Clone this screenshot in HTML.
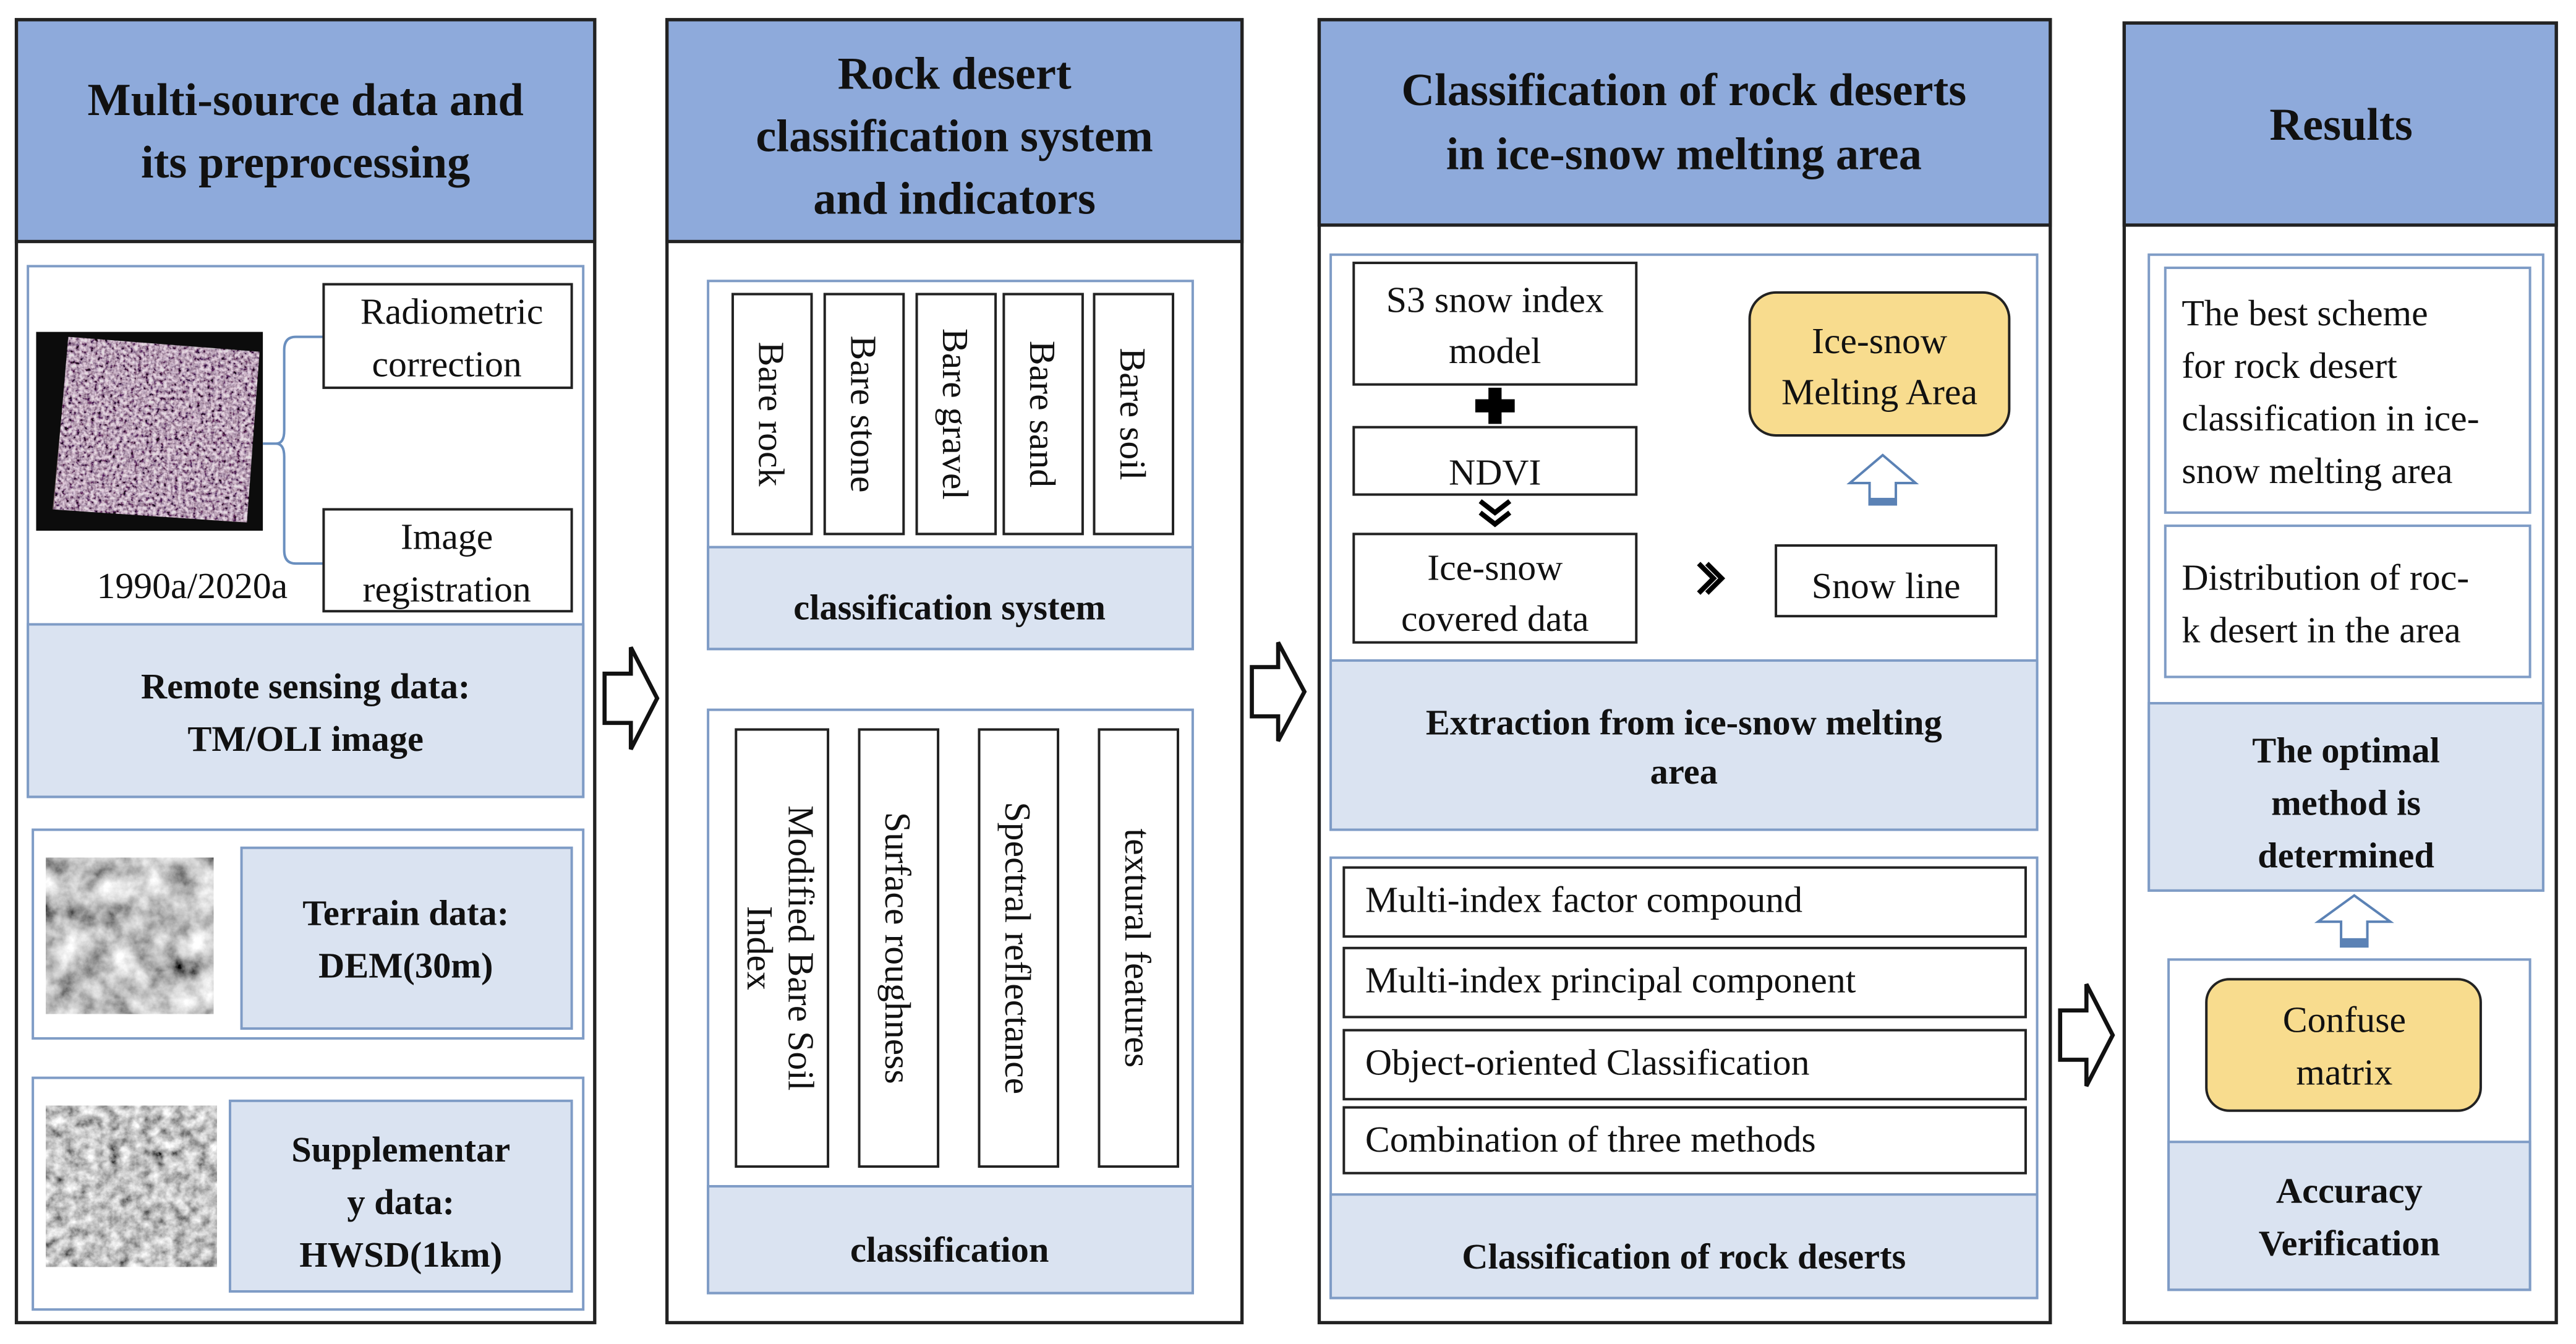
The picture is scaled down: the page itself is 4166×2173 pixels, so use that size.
<!DOCTYPE html>
<html><head><meta charset="utf-8"><style>
html,body{margin:0;padding:0;background:#fff;}
svg{display:block;}
text{font-family:"Liberation Serif",serif;fill:#111;}
.h{font-weight:bold;font-size:28px;}
.b{font-weight:bold;font-size:22px;}
.n{font-size:22.5px;}
</style></head><body>
<svg width="4166" height="2173" viewBox="0 0 1568 818" preserveAspectRatio="none" xmlns="http://www.w3.org/2000/svg">
<defs>
<filter id="sat" x="0" y="0" width="1" height="1">
<feTurbulence type="fractalNoise" baseFrequency="0.45" numOctaves="3" seed="3"/>
<feColorMatrix type="matrix" values="2.2 0.6 0 0 -0.8  2.0 0.6 0 0 -0.85  2.1 0.7 0 0 -0.8  0 0 0 0 1"/>
</filter>
<filter id="dem" x="0" y="0" width="1" height="1">
<feTurbulence type="fractalNoise" baseFrequency="0.06" numOctaves="5" seed="7"/>
<feColorMatrix type="matrix" values="1.4 0.6 0 0 -0.45  1.4 0.6 0 0 -0.45  1.4 0.6 0 0 -0.45  0 0 0 0 1"/>
</filter>
<filter id="hw" x="0" y="0" width="1" height="1">
<feTurbulence type="fractalNoise" baseFrequency="0.15" numOctaves="4" seed="11"/>
<feColorMatrix type="matrix" values="1.2 0.5 0 0 -0.3  1.2 0.5 0 0 -0.3  1.2 0.5 0 0 -0.3  0 0 0 0 1"/>
</filter>
</defs>
<rect width="1568" height="818" fill="#fff"/>

<!-- Panel 1 -->
<rect x="10" y="12" width="352" height="793" fill="#fff" stroke="#222" stroke-width="2"/>
<rect x="10" y="12" width="352" height="135" fill="#8eaadb" stroke="#222" stroke-width="2"/>
<text class="h" x="186" y="70" text-anchor="middle">Multi-source data and</text>
<text class="h" x="186" y="108" text-anchor="middle">its preprocessing</text>
<rect x="17" y="162" width="338" height="323" fill="#fff" stroke="#7f9cc6" stroke-width="1.5"/>
<rect x="17" y="380" width="338" height="105" fill="#dae3f1" stroke="#7f9cc6" stroke-width="1.5"/>
<text class="b" x="186" y="425" text-anchor="middle">Remote sensing data:</text>
<text class="b" x="186" y="457" text-anchor="middle">TM/OLI image</text>
<rect x="22" y="202" width="138" height="121" fill="#0c0c0c"/>
<polygon points="42,205 158,215 150,318 32,310" fill="#6e5a5e"/>
<rect x="30" y="205" width="128" height="113" filter="url(#sat)" opacity="0.8" style="clip-path:polygon(9% 0%,100% 8%,94% 100%,2% 93%)"/>
<path d="M160,270 H168 Q173,270 173,262 V213 Q173,205 180,205 H197 M173,278 V335 Q173,343 180,343 H197 M168,270 Q173,270 173,278" fill="none" stroke="#6a8fbf" stroke-width="1.5"/>
<rect x="197" y="173" width="151" height="63" fill="#fff" stroke="#222" stroke-width="1.5"/>
<text class="n" x="275" y="197" text-anchor="middle">Radiometric</text>
<text class="n" x="272" y="229" text-anchor="middle">correction</text>
<rect x="197" y="310" width="151" height="62" fill="#fff" stroke="#222" stroke-width="1.5"/>
<text class="n" x="272" y="334" text-anchor="middle">Image</text>
<text class="n" x="272" y="366" text-anchor="middle">registration</text>
<text class="n" x="117" y="364" text-anchor="middle">1990a/2020a</text>

<rect x="20" y="505" width="335" height="127" fill="#fff" stroke="#7f9cc6" stroke-width="1.5"/>
<rect x="28" y="522" width="102" height="95" filter="url(#dem)"/>
<rect x="147" y="516" width="201" height="110" fill="#dae3f1" stroke="#7f9cc6" stroke-width="1.5"/>
<text class="b" x="247" y="563" text-anchor="middle">Terrain data:</text>
<text class="b" x="247" y="595" text-anchor="middle">DEM(30m)</text>

<rect x="20" y="656" width="335" height="141" fill="#fff" stroke="#7f9cc6" stroke-width="1.5"/>
<rect x="28" y="673" width="104" height="98" filter="url(#hw)"/>
<rect x="140" y="670" width="208" height="116" fill="#dae3f1" stroke="#7f9cc6" stroke-width="1.5"/>
<text class="b" x="244" y="707" text-anchor="middle">Supplementar</text>
<text class="b" x="244" y="739" text-anchor="middle">y data:</text>
<text class="b" x="244" y="771" text-anchor="middle">HWSD(1km)</text>

<!-- Arrow 1 -->
<polygon points="368,410 384,410 384,394 400,425 384,456 384,440 368,440" fill="#fff" stroke="#111" stroke-width="2.5"/>

<!-- Panel 2 -->
<rect x="406" y="12" width="350" height="793" fill="#fff" stroke="#222" stroke-width="2"/>
<rect x="406" y="12" width="350" height="135" fill="#8eaadb" stroke="#222" stroke-width="2"/>
<text class="h" x="581" y="54" text-anchor="middle">Rock desert</text>
<text class="h" x="581" y="92" text-anchor="middle">classification system</text>
<text class="h" x="581" y="130" text-anchor="middle">and indicators</text>
<rect x="431" y="171" width="295" height="224" fill="#fff" stroke="#7f9cc6" stroke-width="1.5"/>
<rect x="431" y="333" width="295" height="62" fill="#dae3f1" stroke="#7f9cc6" stroke-width="1.5"/>
<text class="b" x="578" y="377" text-anchor="middle">classification system</text>
<g stroke="#222" stroke-width="1.5" fill="#fff">
<rect x="446" y="179" width="48" height="146"/><rect x="502" y="179" width="48" height="146"/>
<rect x="558" y="179" width="48" height="146"/><rect x="611" y="179" width="48" height="146"/>
<rect x="666" y="179" width="48" height="146"/>
</g>
<text class="n" transform="translate(462,252) rotate(90)" text-anchor="middle">Bare rock</text>
<text class="n" transform="translate(518,252) rotate(90)" text-anchor="middle">Bare stone</text>
<text class="n" transform="translate(574,252) rotate(90)" text-anchor="middle">Bare gravel</text>
<text class="n" transform="translate(627,252) rotate(90)" text-anchor="middle">Bare sand</text>
<text class="n" transform="translate(682,252) rotate(90)" text-anchor="middle">Bare soil</text>

<rect x="431" y="432" width="295" height="355" fill="#fff" stroke="#7f9cc6" stroke-width="1.5"/>
<rect x="431" y="722" width="295" height="65" fill="#dae3f1" stroke="#7f9cc6" stroke-width="1.5"/>
<text class="b" x="578" y="768" text-anchor="middle">classification</text>
<g stroke="#222" stroke-width="1.5" fill="#fff">
<rect x="448" y="444" width="56" height="266"/><rect x="523" y="444" width="48" height="266"/>
<rect x="596" y="444" width="48" height="266"/><rect x="669" y="444" width="48" height="266"/>
</g>
<text class="n" transform="translate(480,577) rotate(90)" text-anchor="middle">Modified Bare Soil</text>
<text class="n" transform="translate(455,577) rotate(90)" text-anchor="middle">Index</text>
<text class="n" transform="translate(539,577) rotate(90)" text-anchor="middle">Surface roughness</text>
<text class="n" transform="translate(612,577) rotate(90)" text-anchor="middle">Spectral reflectance</text>
<text class="n" transform="translate(685,577) rotate(90)" text-anchor="middle">textural features</text>

<!-- Arrow 2 -->
<polygon points="762,406 778,406 778,391 794,421 778,451 778,436 762,436" fill="#fff" stroke="#111" stroke-width="2.5"/>

<!-- Panel 3 -->
<rect x="803" y="12" width="445" height="793" fill="#fff" stroke="#222" stroke-width="2"/>
<rect x="803" y="12" width="445" height="125" fill="#8eaadb" stroke="#222" stroke-width="2"/>
<text class="h" x="1025" y="64" text-anchor="middle">Classification of rock deserts</text>
<text class="h" x="1025" y="103" text-anchor="middle">in ice-snow melting area</text>
<rect x="810" y="155" width="430" height="350" fill="#fff" stroke="#7f9cc6" stroke-width="1.5"/>
<rect x="810" y="402" width="430" height="103" fill="#dae3f1" stroke="#7f9cc6" stroke-width="1.5"/>
<text class="b" x="1025" y="447" text-anchor="middle">Extraction from ice-snow melting</text>
<text class="b" x="1025" y="477" text-anchor="middle">area</text>
<g stroke="#222" stroke-width="1.5" fill="#fff">
<rect x="824" y="160" width="172" height="74"/>
<rect x="824" y="260" width="172" height="41"/>
<rect x="824" y="325" width="172" height="66"/>
<rect x="1081" y="332" width="134" height="43"/>
</g>
<text class="n" x="910" y="190" text-anchor="middle">S3 snow index</text>
<text class="n" x="910" y="221" text-anchor="middle">model</text>
<text class="n" x="910" y="295" text-anchor="middle">NDVI</text>
<text class="n" x="910" y="353" text-anchor="middle">Ice-snow</text>
<text class="n" x="910" y="384" text-anchor="middle">covered data</text>
<text class="n" x="1148" y="364" text-anchor="middle">Snow line</text>
<path d="M906,236 h8 v7 h8 v8 h-8 v7 h-8 v-7 h-8 v-8 h8z" fill="#000"/>
<path d="M901,305 l9,7 l9,-7 M901,312 l9,7 l9,-7" fill="none" stroke="#000" stroke-width="3"/>
<path d="M1034,343 l9,9 l-9,9 M1039,343 l9,9 l-9,9" fill="none" stroke="#000" stroke-width="3"/>
<rect x="1065" y="178" width="158" height="87" rx="16" fill="#f8dc8e" stroke="#222" stroke-width="1.5"/>
<text class="n" x="1144" y="215" text-anchor="middle">Ice-snow</text>
<text class="n" x="1144" y="246" text-anchor="middle">Melting Area</text>
<polygon points="1146,277 1166,294 1154,294 1154,307 1138,307 1138,294 1126,294" fill="#fff" stroke="#5b82b5" stroke-width="1.5"/>
<rect x="1138" y="303" width="16" height="4" fill="#5b82b5"/>

<rect x="810" y="522" width="430" height="268" fill="#fff" stroke="#7f9cc6" stroke-width="1.5"/>
<rect x="810" y="727" width="430" height="63" fill="#dae3f1" stroke="#7f9cc6" stroke-width="1.5"/>
<text class="b" x="1025" y="772" text-anchor="middle">Classification of rock deserts</text>
<g stroke="#222" stroke-width="1.5" fill="#fff">
<rect x="818" y="528" width="415" height="42"/><rect x="818" y="577" width="415" height="42"/>
<rect x="818" y="627" width="415" height="42"/><rect x="818" y="674" width="415" height="40"/>
</g>
<text class="n" x="831" y="555">Multi-index factor compound</text>
<text class="n" x="831" y="604">Multi-index principal component</text>
<text class="n" x="831" y="654">Object-oriented Classification</text>
<text class="n" x="831" y="701">Combination of three methods</text>

<!-- Arrow 3 -->
<polygon points="1254,615 1270,615 1270,599 1286,630 1270,661 1270,645 1254,645" fill="#fff" stroke="#111" stroke-width="2.5"/>

<!-- Panel 4 -->
<rect x="1293" y="14" width="263" height="791" fill="#fff" stroke="#222" stroke-width="2"/>
<rect x="1293" y="14" width="263" height="123" fill="#8eaadb" stroke="#222" stroke-width="2"/>
<text class="h" x="1425" y="85" text-anchor="middle">Results</text>
<rect x="1308" y="155" width="240" height="387" fill="#fff" stroke="#7f9cc6" stroke-width="1.5"/>
<rect x="1318" y="163" width="222" height="149" fill="#fff" stroke="#7f9cc6" stroke-width="1.5"/>
<text class="n" x="1328" y="198">The best scheme</text>
<text class="n" x="1328" y="230">for rock desert</text>
<text class="n" x="1328" y="262">classification in ice-</text>
<text class="n" x="1328" y="294">snow melting area</text>
<rect x="1318" y="320" width="222" height="92" fill="#fff" stroke="#7f9cc6" stroke-width="1.5"/>
<text class="n" x="1328" y="359">Distribution of roc-</text>
<text class="n" x="1328" y="391">k desert in the area</text>
<rect x="1308" y="428" width="240" height="114" fill="#dae3f1" stroke="#7f9cc6" stroke-width="1.5"/>
<text class="b" x="1428" y="464" text-anchor="middle">The optimal</text>
<text class="b" x="1428" y="496" text-anchor="middle">method is</text>
<text class="b" x="1428" y="528" text-anchor="middle">determined</text>
<polygon points="1433,545 1455,561 1441,561 1441,576 1425,576 1425,561 1411,561" fill="#fff" stroke="#5b82b5" stroke-width="1.5"/>
<rect x="1425" y="571" width="16" height="5" fill="#5b82b5"/>
<rect x="1320" y="584" width="220" height="201" fill="#fff" stroke="#7f9cc6" stroke-width="1.5"/>
<rect x="1320" y="695" width="220" height="90" fill="#dae3f1" stroke="#7f9cc6" stroke-width="1.5"/>
<rect x="1343" y="596" width="167" height="80" rx="14" fill="#f8dc8e" stroke="#222" stroke-width="1.5"/>
<text class="n" x="1427" y="628" text-anchor="middle">Confuse</text>
<text class="n" x="1427" y="660" text-anchor="middle">matrix</text>
<text class="b" x="1430" y="732" text-anchor="middle">Accuracy</text>
<text class="b" x="1430" y="764" text-anchor="middle">Verification</text>
</svg>
</body></html>
